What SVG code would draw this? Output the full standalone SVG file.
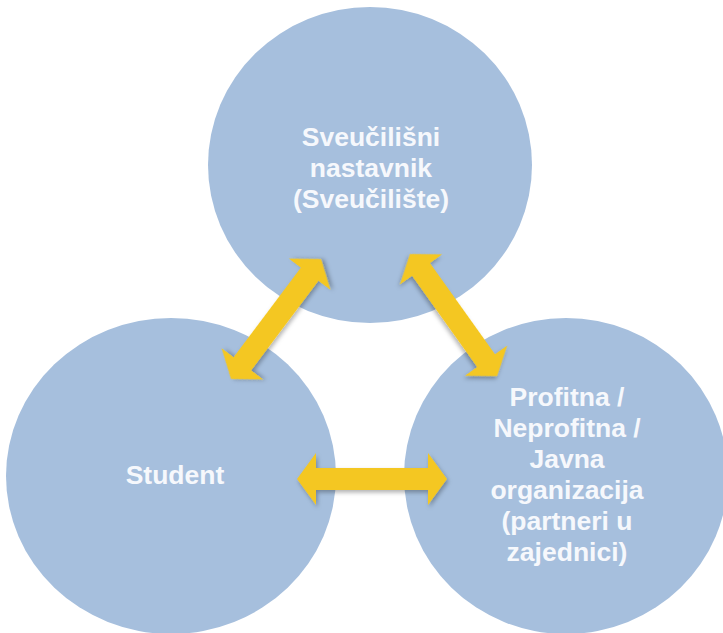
<svg xmlns="http://www.w3.org/2000/svg" width="723" height="633" viewBox="0 0 723 633">
<defs>
<style>
.c{fill:#a6bfdd}
.t{font-family:"Liberation Sans",Arial,sans-serif;font-weight:bold;font-size:26.5px;fill:#f6f8fc;text-anchor:middle}
.a{fill:#f4c723;filter:url(#sh)}
</style>
<filter id="sh" x="-20%" y="-50%" width="140%" height="200%">
<feDropShadow dx="1.5" dy="2.5" stdDeviation="2" flood-color="#000" flood-opacity="0.3"/>
</filter>
<polygon id="arr" points="0,0 19,-26 19,-11 131,-11 131,-26 150,0 131,26 131,11 19,11 19,26"/>
</defs>
<rect width="723" height="633" fill="#fff"/>
<g id="top">
<ellipse class="c" cx="370" cy="165" rx="162" ry="158"/>
<text class="t" x="371" y="146">Sveučilišni</text>
<text class="t" x="371" y="177">nastavnik</text>
<text class="t" x="371" y="208">(Sveučilište)</text>
</g>
<g id="student">
<ellipse class="c" cx="171" cy="476" rx="165" ry="158"/>
<text class="t" x="175" y="484">Student</text>
</g>
<g id="org">
<ellipse class="c" cx="566" cy="476" rx="162" ry="158"/>
<text class="t" x="567" y="406">Profitna /</text>
<text class="t" x="567" y="437">Neprofitna /</text>
<text class="t" x="567" y="468">Javna</text>
<text class="t" x="567" y="499">organizacija</text>
<text class="t" x="567" y="530">(partneri u</text>
<text class="t" x="567" y="561">zajednici)</text>
</g>
<g id="connectors">
<use href="#arr" class="a" transform="translate(231,379) rotate(-53.1)"/>
<use href="#arr" class="a" transform="translate(410,254) rotate(54.5)"/>
<use href="#arr" class="a" transform="translate(297,479)"/>
</g>
</svg>
